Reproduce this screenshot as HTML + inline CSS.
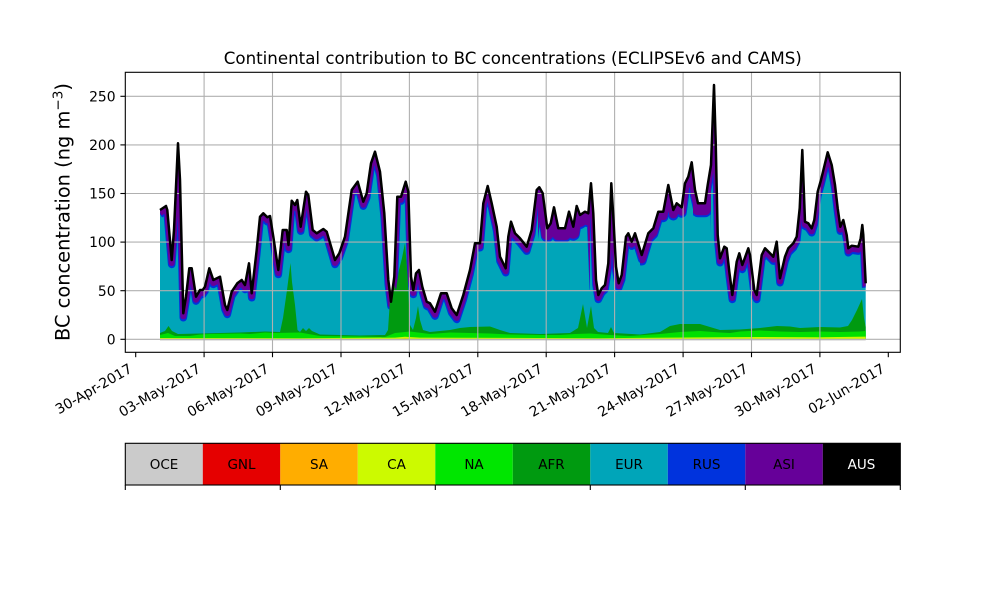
<!DOCTYPE html>
<html>
<head>
<meta charset="utf-8">
<style>
  html,body{margin:0;padding:0;background:#fff;}
  svg{display:block;}
  text{font-family:"DejaVu Sans","Liberation Sans",sans-serif;fill:#000;}
</style>
</head>
<body>
<svg width="1000" height="600" viewBox="0 0 1000 600" xmlns="http://www.w3.org/2000/svg" xmlns:xlink="http://www.w3.org/1999/xlink">
  <rect x="0" y="0" width="1000" height="600" fill="#fff"/>
  <defs>
    <polyline id="tl" points="160,210 166,206 167.3,210 171.7,260 174,230 178,143.3 180,180 183.3,313.3 186,296.7 189.3,268.3 191.7,268.3 196,296.7 200,290 202.7,290 205,286.7 209.3,268.3 213.3,280 220,276.7 225,305 227.3,310 231.7,291.7 237.3,283.3 241.7,280 245,285 249,263.3 251.7,293.3 256.7,250 260,216.7 263.3,213.3 267.3,217.3 270,216 273.3,236.7 278.3,270 282.7,230 286.7,230 288.5,245 291.7,200.7 295,205 297.3,200 300.7,226.7 306,191.7 308.3,195 312.7,230 316.7,233.3 323.3,229 326.7,231.7 335,260 339.3,253.3 345,236.7 351.7,190 357.7,181.7 363.3,201.7 366.7,193.3 371,163.3 375,151.7 380,171.7 384.3,213.3 388.3,280 391,301.7 394.3,276.7 397.3,196.7 401,196.7 405.7,181.7 408.3,191.7 411,276.7 413.3,290 416,273.3 419,270 422.3,286.7 426.7,301.7 430,303.3 435,311.7 441,293.3 446.7,293.3 451.7,308.3 456.7,315 463.3,295 470,270 475,243.3 480,243.3 483.3,203.3 487.7,186 491.7,203.3 496.7,226.7 500,256.7 505.7,268.3 508.3,236.7 511,221.7 515,233.3 520,238.3 526.7,246.7 531.7,230 536.7,190 539.3,187.3 542.7,193.3 547.3,228.3 550.7,223.3 554,207.3 558.3,228.3 561.7,228.3 565,228.3 569,211.7 573.3,226.7 576.7,206 580,215 585,211.7 588.3,213.3 591,183.3 593.3,213.3 596,280 598.3,295 601.7,288.3 605,285 608.3,263.3 611.3,183.3 613.3,216.7 616,266.7 618.7,283.3 621.7,275 626,236.7 628.3,233.3 631.7,241.7 635,233.3 641.7,255 648.3,233.3 653.3,228.3 658.3,211.7 663.3,211.7 668.3,185 673.3,210 676.7,203.3 681.7,207.3 685,183.3 688.3,176.7 691.7,162.3 695,190 698,203.3 705,203.3 707.7,185 711,165 714,85 715.7,141.7 717.7,235 720,258.3 724.3,246.7 726.7,248.3 729.3,271.7 732.3,295 736.7,261.7 739.3,253.3 742.3,265 748.3,248.3 750,255 754.3,290 756.7,295 761.7,255 765,248.3 770,253.3 773.3,256.7 776.7,241.7 780,278.3 785,256.7 788.3,248.3 793.3,243.3 796.7,236.7 799.7,208.3 802.3,150 805,221.7 808.3,223.3 811.7,228.3 814.3,220 817.7,191.7 821,180 827.7,152.3 831.7,165 835,185 837.7,208.3 840.3,226.7 843.3,220 846.7,235 848.3,248.3 851.7,245.7 858.3,246.7 860.7,238.3 862.3,225 863.3,235 865.7,283.3"/>
    <polygon id="areaPoly" points="160,339.3 160,210 166,206 167.3,210 171.7,260 174,230 178,143.3 180,180 183.3,313.3 186,296.7 189.3,268.3 191.7,268.3 196,296.7 200,290 202.7,290 205,286.7 209.3,268.3 213.3,280 220,276.7 225,305 227.3,310 231.7,291.7 237.3,283.3 241.7,280 245,285 249,263.3 251.7,293.3 256.7,250 260,216.7 263.3,213.3 267.3,217.3 270,216 273.3,236.7 278.3,270 282.7,230 286.7,230 288.5,245 291.7,200.7 295,205 297.3,200 300.7,226.7 306,191.7 308.3,195 312.7,230 316.7,233.3 323.3,229 326.7,231.7 335,260 339.3,253.3 345,236.7 351.7,190 357.7,181.7 363.3,201.7 366.7,193.3 371,163.3 375,151.7 380,171.7 384.3,213.3 388.3,280 391,301.7 394.3,276.7 397.3,196.7 401,196.7 405.7,181.7 408.3,191.7 411,276.7 413.3,290 416,273.3 419,270 422.3,286.7 426.7,301.7 430,303.3 435,311.7 441,293.3 446.7,293.3 451.7,308.3 456.7,315 463.3,295 470,270 475,243.3 480,243.3 483.3,203.3 487.7,186 491.7,203.3 496.7,226.7 500,256.7 505.7,268.3 508.3,236.7 511,221.7 515,233.3 520,238.3 526.7,246.7 531.7,230 536.7,190 539.3,187.3 542.7,193.3 547.3,228.3 550.7,223.3 554,207.3 558.3,228.3 561.7,228.3 565,228.3 569,211.7 573.3,226.7 576.7,206 580,215 585,211.7 588.3,213.3 591,183.3 593.3,213.3 596,280 598.3,295 601.7,288.3 605,285 608.3,263.3 611.3,183.3 613.3,216.7 616,266.7 618.7,283.3 621.7,275 626,236.7 628.3,233.3 631.7,241.7 635,233.3 641.7,255 648.3,233.3 653.3,228.3 658.3,211.7 663.3,211.7 668.3,185 673.3,210 676.7,203.3 681.7,207.3 685,183.3 688.3,176.7 691.7,162.3 695,190 698,203.3 705,203.3 707.7,185 711,165 714,85 715.7,141.7 717.7,235 720,258.3 724.3,246.7 726.7,248.3 729.3,271.7 732.3,295 736.7,261.7 739.3,253.3 742.3,265 748.3,248.3 750,255 754.3,290 756.7,295 761.7,255 765,248.3 770,253.3 773.3,256.7 776.7,241.7 780,278.3 785,256.7 788.3,248.3 793.3,243.3 796.7,236.7 799.7,208.3 802.3,150 805,221.7 808.3,223.3 811.7,228.3 814.3,220 817.7,191.7 821,180 827.7,152.3 831.7,165 835,185 837.7,208.3 840.3,226.7 843.3,220 846.7,235 848.3,248.3 851.7,245.7 858.3,246.7 860.7,238.3 862.3,225 863.3,235 865.7,283.3 865.7,339.3"/>
    <clipPath id="area">
      <use xlink:href="#areaPoly" href="#areaPoly"/>
    </clipPath>
    <clipPath id="thick1">
      <rect x="538" y="60" width="52" height="300"/>
      <rect x="693" y="60" width="18" height="300"/>
    </clipPath>
    <clipPath id="thick2">
      <rect x="640" y="60" width="53" height="300"/>
    </clipPath>
  </defs>

  <!-- EUR teal area -->
  <use xlink:href="#areaPoly" href="#areaPoly" fill="#00a5b9"/>

  <!-- RUS / ASI bands under top line -->
  <g clip-path="url(#area)" fill="none" stroke-linejoin="round">
    <use xlink:href="#tl" href="#tl" transform="translate(0,4.4)" stroke="#0033dd" stroke-width="7.6"/>
    <use xlink:href="#tl" href="#tl" transform="translate(0,3)" stroke="#660099" stroke-width="6"/>
    <g clip-path="url(#thick1)">
      <use xlink:href="#tl" href="#tl" transform="translate(0,7.5)" stroke="#0033dd" stroke-width="13"/>
      <use xlink:href="#tl" href="#tl" transform="translate(0,6)" stroke="#660099" stroke-width="12"/>
    </g>
    <g clip-path="url(#thick2)">
      <use xlink:href="#tl" href="#tl" transform="translate(0,5.5)" stroke="#0033dd" stroke-width="10"/>
      <use xlink:href="#tl" href="#tl" transform="translate(0,4.2)" stroke="#660099" stroke-width="8.4"/>
    </g>
  </g>

  <!-- AFR (dark green) -->
  <polygon fill="#009a10" points="160,339.3 160,333 165,331 168.5,326 172,331 178,334 200,333.5 240,332.5 265,331.5 280,332 283,318 287,290 290.5,263 292,282 295,305 297.5,330 300,332 303,328 306,331 309,328 312,331 320,334.5 360,335.5 385,335 388,330 390,300 393,282 396,290 399,270 402,258 405,243 407.5,275 410,325 413,330 416,318 418,306 420,320 423,330 430,332 450,330 460,328 470,327 490,326.5 500,330 510,333 540,334 570,333 578,328 583,304 587,328 591,306 594,328 598,332 608,333 611,327 614,333 640,334.5 660,332 670,326 680,324 700,324 710,327 720,330 740,329.5 760,328 777,326 790,326.5 800,328 820,327 840,327.5 848,326 852,320 857,310 862,299 864,318 865.7,327 865.7,339.3"/>
  <!-- NA (bright green) -->
  <polygon fill="#00e000" points="160,339.3 160,335 168,333 175,336 190,336 200,334.5 210,334 240,333.5 250,334 265,332.5 275,333 300,332.5 320,336 360,336.5 385,337 395,333 410,331.5 430,334 450,332.5 470,333 490,333.5 510,334.5 540,335 560,335 575,334 590,333.5 610,335 630,336 660,334 680,332 700,331 720,332.5 730,333 740,331.5 760,330.5 780,331.5 800,332 820,331.5 840,332 860,331.5 865.7,331 865.7,339.3"/>
  <!-- CA yellow -->
  <polygon fill="#ccfa00" points="160,339.3 160,338 300,338.2 395,337.6 405,336.8 420,337.6 600,338.2 700,337.4 760,337 820,337.2 865.7,336.6 865.7,339.3"/>
  <polygon fill="#ffad00" points="400,339.3 405,338.4 412,339.3"/>
  <!-- OCE grey -->
  <rect x="160" y="339.3" width="705.7" height="1.2" fill="#cbcbcb"/>

  <!-- grid -->
  <g stroke="#b0b0b0" stroke-width="1.1">
    <line x1="125.3" y1="339.3" x2="900.3" y2="339.3"/>
    <line x1="125.3" y1="290.7" x2="900.3" y2="290.7"/>
    <line x1="125.3" y1="242.1" x2="900.3" y2="242.1"/>
    <line x1="125.3" y1="193.5" x2="900.3" y2="193.5"/>
    <line x1="125.3" y1="144.9" x2="900.3" y2="144.9"/>
    <line x1="125.3" y1="96.3" x2="900.3" y2="96.3"/>
    <line x1="204.1" y1="72.3" x2="204.1" y2="352.3"/>
    <line x1="272.5" y1="72.3" x2="272.5" y2="352.3"/>
    <line x1="341" y1="72.3" x2="341" y2="352.3"/>
    <line x1="409.4" y1="72.3" x2="409.4" y2="352.3"/>
    <line x1="477.8" y1="72.3" x2="477.8" y2="352.3"/>
    <line x1="546.2" y1="72.3" x2="546.2" y2="352.3"/>
    <line x1="614.6" y1="72.3" x2="614.6" y2="352.3"/>
    <line x1="683.1" y1="72.3" x2="683.1" y2="352.3"/>
    <line x1="751.5" y1="72.3" x2="751.5" y2="352.3"/>
    <line x1="819.9" y1="72.3" x2="819.9" y2="352.3"/>
  </g>

  <!-- AUS black top line -->
  <use xlink:href="#tl" href="#tl" fill="none" stroke="#000" stroke-width="2.5" stroke-linejoin="round"/>

  <!-- axes frame -->
  <rect x="125.3" y="72.3" width="775" height="280" fill="none" stroke="#000" stroke-width="1.1"/>

  <!-- y ticks -->
  <g stroke="#000" stroke-width="1.1">
    <line x1="120.4" y1="339.3" x2="125.3" y2="339.3"/>
    <line x1="120.4" y1="290.7" x2="125.3" y2="290.7"/>
    <line x1="120.4" y1="242.1" x2="125.3" y2="242.1"/>
    <line x1="120.4" y1="193.5" x2="125.3" y2="193.5"/>
    <line x1="120.4" y1="144.9" x2="125.3" y2="144.9"/>
    <line x1="120.4" y1="96.3" x2="125.3" y2="96.3"/>
  </g>
  <g font-size="13.9" text-anchor="end">
    <text x="115.6" y="344.4">0</text>
    <text x="115.6" y="295.8">50</text>
    <text x="115.6" y="247.2">100</text>
    <text x="115.6" y="198.6">150</text>
    <text x="115.6" y="150">200</text>
    <text x="115.6" y="101.4">250</text>
  </g>

  <!-- x ticks -->
  <g stroke="#000" stroke-width="1.1">
    <line x1="135.7" y1="352.3" x2="135.7" y2="357.2"/>
    <line x1="204.1" y1="352.3" x2="204.1" y2="357.2"/>
    <line x1="272.5" y1="352.3" x2="272.5" y2="357.2"/>
    <line x1="341" y1="352.3" x2="341" y2="357.2"/>
    <line x1="409.4" y1="352.3" x2="409.4" y2="357.2"/>
    <line x1="477.8" y1="352.3" x2="477.8" y2="357.2"/>
    <line x1="546.2" y1="352.3" x2="546.2" y2="357.2"/>
    <line x1="614.6" y1="352.3" x2="614.6" y2="357.2"/>
    <line x1="683.1" y1="352.3" x2="683.1" y2="357.2"/>
    <line x1="751.5" y1="352.3" x2="751.5" y2="357.2"/>
    <line x1="819.9" y1="352.3" x2="819.9" y2="357.2"/>
    <line x1="888.3" y1="352.3" x2="888.3" y2="357.2"/>
  </g>
  <g font-size="13.9" text-anchor="end">
    <text transform="translate(133.2,371.5) rotate(-30)">30-Apr-2017</text>
    <text transform="translate(201.6,371.5) rotate(-30)">03-May-2017</text>
    <text transform="translate(270,371.5) rotate(-30)">06-May-2017</text>
    <text transform="translate(338.5,371.5) rotate(-30)">09-May-2017</text>
    <text transform="translate(406.9,371.5) rotate(-30)">12-May-2017</text>
    <text transform="translate(475.3,371.5) rotate(-30)">15-May-2017</text>
    <text transform="translate(543.7,371.5) rotate(-30)">18-May-2017</text>
    <text transform="translate(612.1,371.5) rotate(-30)">21-May-2017</text>
    <text transform="translate(680.6,371.5) rotate(-30)">24-May-2017</text>
    <text transform="translate(749,371.5) rotate(-30)">27-May-2017</text>
    <text transform="translate(817.4,371.5) rotate(-30)">30-May-2017</text>
    <text transform="translate(885.8,371.5) rotate(-30)">02-Jun-2017</text>
  </g>

  <!-- y label -->
  <text transform="translate(69.5,212) rotate(-90)" font-size="19.4" text-anchor="middle">BC concentration (ng m<tspan font-size="13.6" dy="-7">−3</tspan><tspan dy="7">)</tspan></text>

  <!-- title -->
  <text x="512.8" y="64" font-size="16.67" text-anchor="middle">Continental contribution to BC concentrations (ECLIPSEv6 and CAMS)</text>

  <!-- colorbar -->
  <rect x="125.3" y="443.3" width="77.5" height="41.7" fill="#cbcbcb"/>
  <rect x="202.8" y="443.3" width="77.5" height="41.7" fill="#e50000"/>
  <rect x="280.3" y="443.3" width="77.5" height="41.7" fill="#ffad00"/>
  <rect x="357.8" y="443.3" width="77.5" height="41.7" fill="#ccfa00"/>
  <rect x="435.3" y="443.3" width="77.5" height="41.7" fill="#00e600"/>
  <rect x="512.8" y="443.3" width="77.5" height="41.7" fill="#009a10"/>
  <rect x="590.3" y="443.3" width="77.5" height="41.7" fill="#00a5b9"/>
  <rect x="667.8" y="443.3" width="77.5" height="41.7" fill="#0033dd"/>
  <rect x="745.3" y="443.3" width="77.5" height="41.7" fill="#660099"/>
  <rect x="822.8" y="443.3" width="77.5" height="41.7" fill="#000000"/>
  <rect x="125.3" y="443.3" width="775" height="41.7" fill="none" stroke="#000" stroke-width="1.1"/>
  <g stroke="#000" stroke-width="1.1">
    <line x1="125.3" y1="485" x2="125.3" y2="490"/>
    <line x1="280.3" y1="485" x2="280.3" y2="490"/>
    <line x1="435.3" y1="485" x2="435.3" y2="490"/>
    <line x1="590.3" y1="485" x2="590.3" y2="490"/>
    <line x1="745.3" y1="485" x2="745.3" y2="490"/>
    <line x1="900.3" y1="485" x2="900.3" y2="490"/>
  </g>
  <g font-size="13.5" text-anchor="middle">
    <text x="164" y="469">OCE</text>
    <text x="241.5" y="469">GNL</text>
    <text x="319" y="469">SA</text>
    <text x="396.5" y="469">CA</text>
    <text x="474" y="469">NA</text>
    <text x="551.5" y="469">AFR</text>
    <text x="629" y="469">EUR</text>
    <text x="706.5" y="469">RUS</text>
    <text x="784" y="469">ASI</text>
    <text x="861.5" y="469" style="fill:#fff">AUS</text>
  </g>
</svg>
</body>
</html>
